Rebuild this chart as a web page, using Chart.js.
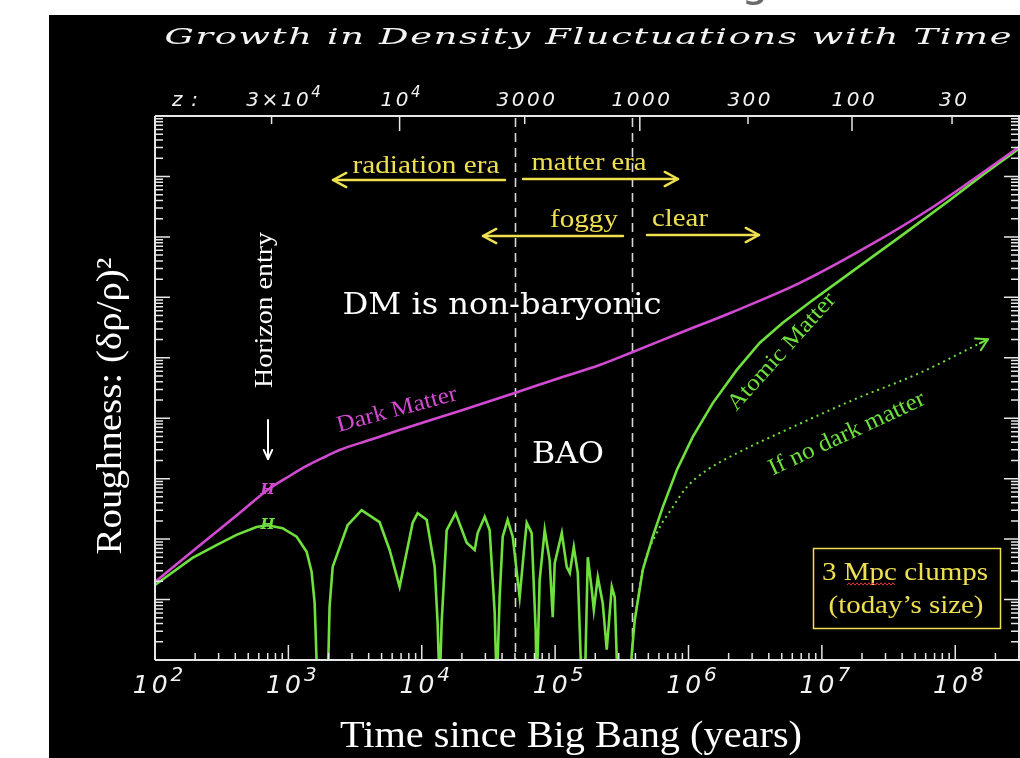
<!DOCTYPE html>
<html><head><meta charset="utf-8">
<script src="https://cdn.jsdelivr.net/npm/chart.js@4.4.1/dist/chart.umd.min.js"></script>
<style>html,body{margin:0;padding:0;background:#fff;overflow:hidden}canvas{display:block}</style>
</head><body><canvas id="c" width="1020" height="758"></canvas>
<script>
// ---------- data (log10 values) ----------
const titleText = 'Growth in Density Fluctuations with Time';
const xTitle = 'Time since Big Bang (years)';
const yTitle = 'Roughness: (δρ/ρ)²';

// bottom axis: decades of time (years)
const xTickLabels = ['10^2','10^3','10^4','10^5','10^6','10^7','10^8'];
const xTickLogT   = [2,3,4,5,6,7,8];

// top axis: redshift z at given times
const zTickLabels = ['3×10^4','10^4','3000','1000','300','100','30'];
const zTickLogT   = [2.874,3.834,4.772,5.635,6.446,7.226,7.976];
const zTickMajor  = [false,true,false,true,false,true,false];

// eras
const equalityTime = 5.0e4;      // matter-radiation equality (years)
const recombinationTime = 3.8e5; // recombination (years)
const horizonLogT = 2.844;       // horizon entry

// Dark matter
const dmLogT = [2.000,2.334,2.634,2.844,3.009,3.137,3.272,3.384,3.609,3.834,4.284,4.697,5.034,5.334,5.582,5.935,6.332,6.835,7.337,7.833,8.478];
const dmLogR = [1.291,1.894,2.432,2.813,3.044,3.210,3.359,3.474,3.640,3.805,4.120,4.418,4.666,4.881,5.096,5.410,5.758,6.238,6.833,7.495,8.488];

// Atomic matter (values below the axis = zero crossings)
const amLogT = [2.000,2.281,2.461,2.611,2.761,2.844,2.956,3.062,3.137,3.174,3.197,3.219,3.294,3.309,3.332,3.444,3.549,3.684,3.759,3.834,3.932,3.969,4.037,4.097,4.119,4.134,4.149,4.187,4.254,4.337,4.397,4.419,4.472,4.509,4.547,4.562,4.584,4.607,4.644,4.682,4.734,4.772,4.787,4.824,4.854,4.862,4.884,4.922,4.959,4.982,4.997,5.050,5.087,5.110,5.140,5.170,5.200,5.222,5.245,5.275,5.290,5.320,5.357,5.387,5.425,5.447,5.470,5.560,5.575,5.597,5.657,5.732,5.807,5.912,6.032,6.182,6.362,6.535,6.707,6.910,7.210,7.585,7.960,8.208,8.478];
const amLogR = [1.24,1.69,1.90,2.07,2.20,2.23,2.18,2.04,1.79,1.46,0.94,-0.5,-0.5,0.88,1.54,2.23,2.48,2.28,1.82,1.21,2.27,2.43,2.32,1.54,0.61,-0.5,0.61,2.15,2.43,1.94,1.82,2.10,2.37,2.15,0.78,-0.5,1.04,2.04,2.32,2.04,1.04,1.94,2.27,2.10,0.50,-0.5,1.32,2.15,1.65,0.71,1.60,2.10,1.54,1.44,1.87,1.44,-0.5,-0.5,1.70,1.16,0.83,1.37,0.94,0.17,1.21,1.04,-0.5,-0.5,0.12,0.66,1.49,2.04,2.53,3.14,3.69,4.25,4.80,5.25,5.58,5.92,6.40,7.00,7.61,8.03,8.46];

// Atomic matter if there were no dark matter
const ndLogT = [5.597,5.657,5.762,5.882,5.987,6.137,6.362,6.737,7.232,7.735,8.185];
const ndLogR = [0.66,1.49,2.10,2.53,2.86,3.14,3.42,3.81,4.30,4.75,5.24];

// ---------- styles ----------
const W = 1020, H = 758;
const MAG = '#d24ad2', GRN = '#6fe03e', YEL = '#efe050', AX = '#e6e6e6';

const pts = (lt, lr) => lt.map((t, i) => ({x: Math.pow(10, t), y: Math.pow(10, lr[i])}));

function fitText(ctx, s, cx, cy, font, color, w, opt = {}) {
  ctx.save();
  ctx.font = font; ctx.fillStyle = color;
  ctx.textBaseline = opt.baseline || 'alphabetic';
  ctx.translate(cx, cy);
  if (opt.rot) ctx.rotate(opt.rot * Math.PI / 180);
  const m = ctx.measureText(s).width;
  if (opt.mode === 'space' && s.length > 1) {
    const sx = opt.sx || 1;
    ctx.scale(sx, 1);
    const ww = w / sx;
    const chars = [...s];
    const extra = (ww - m) / (chars.length - 1);
    let x = -ww / 2;
    ctx.textAlign = 'left';
    for (const ch of chars) { ctx.fillText(ch, x, 0); x += ctx.measureText(ch).width + extra; }
  } else {
    if (w) ctx.scale(w / m, 1);
    ctx.textAlign = 'center';
    ctx.fillText(s, 0, 0);
  }
  ctx.restore();
}

function spacedWidth(ctx, s, sp) {
  return [...s].reduce((a, ch) => a + ctx.measureText(ch).width + sp, 0) - sp;
}
function spacedText(ctx, s, x, y, sp) {
  for (const ch of s) { ctx.fillText(ch, x, y); x += ctx.measureText(ch).width + sp; }
}

function supLabel(ctx, label, cx, base, font, supFont, rise, color, sp) {
  const [main, exp] = label.split('^');
  ctx.save();
  ctx.fillStyle = color; ctx.textBaseline = 'alphabetic'; ctx.textAlign = 'left';
  ctx.font = font; const w1 = spacedWidth(ctx, main, sp);
  ctx.font = supFont; const w2 = exp ? ctx.measureText(exp).width + sp : 0;
  const x = cx - (w1 + w2) / 2;
  ctx.font = font; spacedText(ctx, main, x, base, sp);
  if (exp) { ctx.font = supFont; ctx.fillText(exp, x + w1 + sp, base - rise); }
  ctx.restore();
}

function arrow(ctx, x1, y1, x2, y2, color, lw, head, ang) {
  ctx.save();
  ctx.strokeStyle = color; ctx.lineWidth = lw; ctx.lineCap = 'round'; ctx.lineJoin = 'round';
  ctx.beginPath(); ctx.moveTo(x1, y1); ctx.lineTo(x2, y2); ctx.stroke();
  const a = Math.atan2(y2 - y1, x2 - x1), r = ang * Math.PI / 180;
  ctx.beginPath();
  ctx.moveTo(x2 - head * Math.cos(a - r), y2 - head * Math.sin(a - r));
  ctx.lineTo(x2, y2);
  ctx.lineTo(x2 - head * Math.cos(a + r), y2 - head * Math.sin(a + r));
  ctx.stroke();
  ctx.restore();
}

const deco = {
  id: 'deco',
  beforeDraw(chart) {
    const ctx = chart.ctx;
    ctx.save();
    ctx.fillStyle = '#fff'; ctx.fillRect(0, 0, W, H);
    ctx.fillStyle = '#6a6a6a'; ctx.font = '44px "DejaVu Sans"'; ctx.textAlign = 'center';
    ctx.fillText('g', 755, -4);
    ctx.fillStyle = '#000'; ctx.fillRect(49, 15, W - 49, H - 15);
    ctx.restore();
  },
  beforeDatasetsDraw(chart) {
    const ctx = chart.ctx, ca = chart.chartArea, xs = chart.scales.x;
    ctx.save();
    ctx.strokeStyle = '#d8d8d8'; ctx.lineWidth = 1.6; ctx.setLineDash([9, 6]);
    for (const t of [equalityTime, recombinationTime]) {
      const x = Math.round(xs.getPixelForValue(t)) + 0.5;
      ctx.beginPath(); ctx.moveTo(x, ca.top + 2); ctx.lineTo(x, ca.bottom); ctx.stroke();
    }
    ctx.restore();
  },
  afterDatasetsDraw(chart) {
    const ctx = chart.ctx, ca = chart.chartArea, xs = chart.scales.x, ys = chart.scales.y;
    ctx.save();
    // frame
    ctx.strokeStyle = AX; ctx.lineWidth = 2;
    ctx.beginPath();
    ctx.moveTo(ca.left, ca.top); ctx.lineTo(W, ca.top);
    ctx.moveTo(ca.left, ca.bottom); ctx.lineTo(W, ca.bottom);
    ctx.moveTo(ca.left, ca.top); ctx.lineTo(ca.left, ca.bottom);
    ctx.moveTo(ca.right, ca.top); ctx.lineTo(ca.right, ca.bottom);
    ctx.stroke();
    ctx.lineWidth = 1.5;
    ctx.beginPath();
    // bottom ticks (log)
    for (let d = 2; d <= 8; d++) {
      for (let k = 1; k <= 9; k++) {
        const v = k * Math.pow(10, d);
        if (v > xs.max) break;
        const x = xs.getPixelForValue(v);
        const len = k === 1 ? 15 : 7;
        ctx.moveTo(x, ca.bottom); ctx.lineTo(x, ca.bottom - len);
      }
    }
    // top ticks (redshift)
    zTickLogT.forEach((lt, i) => {
      const x = xs.getPixelForValue(Math.pow(10, lt));
      ctx.moveTo(x, ca.top); ctx.lineTo(x, ca.top + (zTickMajor[i] ? 15 : 8));
    });
    // left / right ticks (log)
    for (let d = 0; d <= 9; d++) {
      for (let k = 1; k <= 9; k++) {
        const v = k * Math.pow(10, d);
        if (v > ys.max) break;
        const y = ys.getPixelForValue(v);
        const len = k === 1 ? 15 : 8;
        ctx.moveTo(ca.left, y); ctx.lineTo(ca.left + len, y);
        ctx.moveTo(ca.right, y); ctx.lineTo(ca.right - len, y);
      }
    }
    ctx.stroke();

    // bottom tick labels
    xTickLabels.forEach((lab, i) => {
      const x = xs.getPixelForValue(Math.pow(10, xTickLogT[i]));
      supLabel(ctx, lab, x + 3, 693, 'oblique 25px "DejaVu Sans"', 'oblique 20px "DejaVu Sans"', 12, '#f2f2f2', 3);
    });
    // top z labels
    fitText(ctx, 'z :', 185, 106, 'oblique 20px "DejaVu Sans"', '#f2f2f2', 26, {mode: 'space'});
    zTickLabels.forEach((lab, i) => {
      const x = xs.getPixelForValue(Math.pow(10, zTickLogT[i]));
      supLabel(ctx, lab, x + (i === 0 ? 12 : 1), 106, 'oblique 20px "DejaVu Sans"', 'oblique 15px "DejaVu Sans"', 9, '#f2f2f2', 2.5);
    });

    // titles
    fitText(ctx, titleText, 588, 44, 'italic 23px "DejaVu Serif"', '#f4f4f4', 847, {mode: 'space', sx: 1.6});
    fitText(ctx, xTitle, 571, 747, '37px "Liberation Serif"', '#ffffff', 462);
    fitText(ctx, yTitle, 112, 406, '36px "Liberation Serif"', '#ffffff', 297, {rot: -90, baseline: 'middle'});

    // era annotations
    const yf = '26px "Liberation Serif"';
    fitText(ctx, 'radiation era', 426, 173, yf, YEL, 147);
    fitText(ctx, 'matter era', 589, 170, yf, YEL, 115);
    fitText(ctx, 'foggy', 584, 227, yf, YEL, 68);
    fitText(ctx, 'clear', 680, 226, yf, YEL, 56);
    arrow(ctx, 505, 180, 333, 180, YEL, 2.5, 15, 28);
    arrow(ctx, 523, 179, 678, 179, YEL, 2.5, 15, 28);
    arrow(ctx, 623, 236, 483, 236, YEL, 2.5, 15, 28);
    arrow(ctx, 647, 235, 759, 235, YEL, 2.5, 15, 28);

    // horizon entry
    fitText(ctx, 'Horizon entry', 265, 310, '26px "Liberation Serif"', '#ffffff', 156, {rot: -90, baseline: 'middle'});
    arrow(ctx, 268, 420, 268, 459, '#ffffff', 2, 10, 25);

    // big white labels
    fitText(ctx, 'DM is non-baryonic', 502, 314, '29px "DejaVu Serif"', '#ffffff', 319);
    fitText(ctx, 'BAO', 568, 463, '29px "DejaVu Serif"', '#ffffff', 72);

    // curve labels
    fitText(ctx, 'Dark Matter', 397, 410, '23px "Liberation Serif"', MAG, 124, {rot: -15, baseline: 'middle'});
    fitText(ctx, 'Atomic Matter', 782, 352, '23px "Liberation Serif"', GRN, 150, {rot: -48, baseline: 'middle'});
    fitText(ctx, 'If no dark matter', 847, 434, '24px "Liberation Serif"', GRN, 170, {rot: -25, baseline: 'middle'});

    // horizon-entry markers on the curves
    const hx = xs.getPixelForValue(Math.pow(10, horizonLogT));
    const hdm = ys.getPixelForValue(Math.pow(10, dmLogR[dmLogT.indexOf(horizonLogT)]));
    const ham = ys.getPixelForValue(Math.pow(10, amLogR[amLogT.indexOf(horizonLogT)]));
    ctx.font = 'italic bold 15px "DejaVu Serif"'; ctx.textAlign = 'center'; ctx.textBaseline = 'middle';
    ctx.fillStyle = MAG; ctx.fillText('H', hx, hdm);
    ctx.fillStyle = GRN; ctx.fillText('H', hx, ham);

    // arrow head at the end of the dotted curve
    const nd = chart.getDatasetMeta(2).data;
    const p1 = nd[nd.length - 2], p2 = nd[nd.length - 1];
    const a = Math.atan2(p2.y - p1.y, p2.x - p1.x);
    arrow(ctx, p2.x, p2.y, p2.x + 9 * Math.cos(a), p2.y + 9 * Math.sin(a), GRN, 2, 13, 30);

    // info box
    ctx.strokeStyle = YEL; ctx.lineWidth = 1.5;
    ctx.strokeRect(813.5, 548.5, 187, 80);
    fitText(ctx, '3 Mpc clumps', 905, 580, '25px "Liberation Serif"', YEL, 166);
    fitText(ctx, '(today’s size)', 906, 613, '25px "Liberation Serif"', YEL, 155);
    // spell-check squiggle under "Mpc"
    ctx.strokeStyle = '#e23a3a'; ctx.lineWidth = 1;
    ctx.beginPath();
    for (let x = 847, i = 0; x <= 895; x += 2, i++) {
      const y = 584 + (i % 2 ? -1.2 : 1.2);
      if (i === 0) ctx.moveTo(x, y); else ctx.lineTo(x, y);
    }
    ctx.stroke();
    ctx.restore();
  }
};

new Chart(document.getElementById('c'), {
  type: 'line',
  data: {
    datasets: [
      {label: 'Dark Matter', data: pts(dmLogT, dmLogR), borderColor: MAG, borderWidth: 2.6,
       pointRadius: 0, cubicInterpolationMode: 'monotone', fill: false},
      {label: 'Atomic Matter', data: pts(amLogT, amLogR), borderColor: GRN, borderWidth: 2.6,
       pointRadius: 0, tension: 0, fill: false},
      {label: 'If no dark matter', data: pts(ndLogT, ndLogR), borderColor: GRN, borderWidth: 2,
       borderDash: [2, 4], pointRadius: 0, tension: 0.3, cubicInterpolationMode: 'monotone', fill: false}
    ]
  },
  options: {
    responsive: false, devicePixelRatio: 1, animation: false,
    layout: {padding: {left: 155, top: 116, right: 1, bottom: 98}},
    plugins: {legend: {display: false}, tooltip: {enabled: false}, title: {display: false}},
    scales: {
      x: {type: 'logarithmic', min: 100, max: Math.pow(10, 8.478), display: false},
      y: {type: 'logarithmic', min: 1, max: 1e9, display: false}
    }
  },
  plugins: [deco]
});
</script></body></html>
